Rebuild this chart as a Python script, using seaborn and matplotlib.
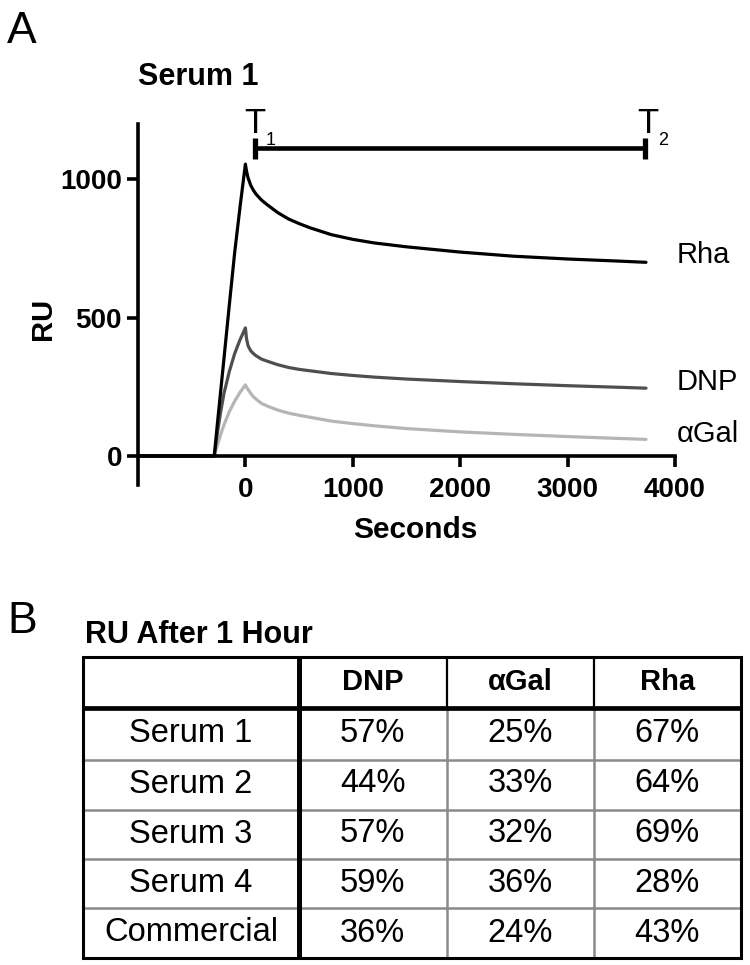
import numpy as np
import pandas as pd
import matplotlib
matplotlib.use("Agg")
import matplotlib.pyplot as plt
import seaborn as sns
from matplotlib.colors import ListedColormap

# ---------------- data ----------------
time_s = [-1000, -290, -260, -230, -200, -150, -100, -50, 0,
          10, 25, 50, 75, 100, 150, 200, 300, 400, 500, 600, 800, 1000,
          1200, 1500, 2000, 2500, 3000, 3500, 3730]
rha_ru = [0, 0, 120, 235, 350, 545, 735, 900, 1055,
          1030, 1005, 978, 960, 946, 925, 909, 880, 857, 840, 825, 800, 783,
          770, 756, 737, 722, 712, 704, 700]
dnp_ru = [0, 0, 85, 160, 225, 305, 370, 420, 463,
          425, 398, 380, 370, 362, 350, 343, 330, 320, 313, 308, 298, 291,
          285, 278, 269, 261, 254, 248, 245]
agal_ru = [0, 0, 40, 78, 112, 160, 198, 230, 257,
           249, 240, 226, 214, 205, 190, 181, 166, 155, 147, 140, 126, 117,
           109, 99, 87, 78, 70, 63, 60]
analytes = ["αGal", "DNP", "Rha"]
x_ticks = [0, 1000, 2000, 3000, 4000]
y_ticks = [0, 500, 1000]
T1_TIME, T2_TIME, BAR_RU = 88, 3718, 1112

table_cols = ["DNP", "αGal", "Rha"]
row_labels = ["Serum 1", "Serum 2", "Serum 3", "Serum 4", "Commercial"]
dnp_pct = [57, 44, 57, 59, 36]
agal_pct = [25, 33, 32, 36, 24]
rha_pct = [67, 64, 69, 28, 43]

# ---------------- style ----------------
sns.set_theme(style="white")
plt.rcParams["font.family"] = ["Liberation Sans", "DejaVu Sans"]
plt.rcParams.update({"text.color": "black", "axes.labelcolor": "black",
                     "xtick.color": "black", "ytick.color": "black",
                     "axes.unicode_minus": False})

W, H = 750, 965
fig = plt.figure(figsize=(W / 100, H / 100), dpi=100)
fig.patch.set_facecolor("white")


def fx(px):
    return px / W


def fy(py):
    return 1 - py / H


# ---------------- panel A ----------------
ax = fig.add_axes([fx(138), fy(485), (675 - 138) / W, (485 - 124) / H])
ax.set_facecolor("none")
df = pd.concat([
    pd.DataFrame({"Seconds": time_s, "RU": v, "Analyte": n})
    for n, v in [("αGal", agal_ru), ("DNP", dnp_ru), ("Rha", rha_ru)]
], ignore_index=True)
palette = {"Rha": "#000000", "DNP": "#4f4f4f", "αGal": "#b5b5b5"}
sns.lineplot(data=df, x="Seconds", y="RU", hue="Analyte", hue_order=analytes,
             palette=palette, linewidth=2.3, legend=False, estimator=None,
             sort=False, ax=ax)
for ln in ax.lines:
    ln.set_clip_on(False)

ax.set_xlim(-1000, 4000)
ax.set_ylim(-105, 1200)
ax.spines["bottom"].set_position(("data", 0))
ax.spines["top"].set_visible(False)
ax.spines["right"].set_visible(False)
for s in ("left", "bottom"):
    ax.spines[s].set_linewidth(2.6)
    ax.spines[s].set_color("black")
ax.set_xticks(x_ticks)
ax.set_yticks(y_ticks)
ax.tick_params(direction="out", length=8, width=2.6, labelsize=20,
               colors="black", bottom=True, left=True)
ax.tick_params(axis="x", pad=7)
ax.tick_params(axis="y", pad=3.5)
for lab in ax.get_xticklabels() + ax.get_yticklabels():
    lab.set_fontweight("bold")
ax.set_xlabel("")
ax.set_ylabel("")

# T1 - T2 bar
ax.plot([T1_TIME, T2_TIME], [BAR_RU, BAR_RU], color="black", lw=3.3,
        solid_capstyle="butt", clip_on=False)
for t in (T1_TIME, T2_TIME):
    ax.plot([t, t], [BAR_RU - 37, BAR_RU + 37], color="black", lw=3.8,
            solid_capstyle="butt", clip_on=False)

fig.text(fx(244), fy(133), "T", fontsize=25, va="baseline", ha="left")
fig.text(fx(266), fy(145), "1", fontsize=13, va="baseline", ha="left")
fig.text(fx(637), fy(133), "T", fontsize=25, va="baseline", ha="left")
fig.text(fx(658), fy(145), "2", fontsize=13, va="baseline", ha="left")

fig.text(fx(677), fy(263), "Rha", fontsize=21, va="baseline", ha="left")
fig.text(fx(677), fy(390), "DNP", fontsize=21, va="baseline", ha="left")
fig.text(fx(677), fy(442), "αGal", fontsize=21, va="baseline", ha="left")

fig.text(fx(415), fy(538), "Seconds", fontsize=21.5, fontweight="bold",
         ha="center", va="baseline")
fig.text(fx(43), fy(319), "RU", fontsize=21, fontweight="bold",
         ha="center", va="center", rotation=90)
fig.text(fx(138), fy(85), "Serum 1", fontsize=22, fontweight="bold",
         ha="left", va="baseline")
fig.text(fx(7), fy(43), "A", fontsize=32, ha="left", va="baseline")

# ---------------- panel B (table) ----------------
col_edges = [83, 299, 447, 594, 741]
row_edges = [657, 708, 760, 810, 859, 908, 958]

vals = pd.DataFrame({"DNP": dnp_pct, "αGal": agal_pct, "Rha": rha_pct},
                    index=row_labels)
annot = vals.map(lambda v: f"{v}%")
hax = fig.add_axes([fx(col_edges[1]), fy(row_edges[-1]),
                    (col_edges[-1] - col_edges[1]) / W,
                    (row_edges[-1] - row_edges[1]) / H])
sns.heatmap(vals, annot=annot, fmt="", cmap=ListedColormap(["white"]),
            cbar=False, linewidths=0, xticklabels=False, yticklabels=False,
            annot_kws={"fontsize": 23.5, "color": "black"}, ax=hax)
hax.set_xlabel("")
hax.set_ylabel("")

tax = fig.add_axes([fx(col_edges[0]), fy(row_edges[-1]),
                    (col_edges[-1] - col_edges[0]) / W,
                    (row_edges[-1] - row_edges[0]) / H])
tax.set_xlim(col_edges[0], col_edges[-1])
tax.set_ylim(row_edges[-1], row_edges[0])
tax.axis("off")

gray = "#8a8a8a"
for yv in row_edges[2:-1]:
    tax.plot([col_edges[0], col_edges[-1]], [yv, yv], color=gray, lw=1.8,
             clip_on=False, solid_capstyle="butt")
for xv in col_edges[2:-1]:
    tax.plot([xv, xv], [row_edges[1], row_edges[-1]], color=gray, lw=1.8,
             clip_on=False, solid_capstyle="butt")
    tax.plot([xv, xv], [row_edges[0], row_edges[1]], color="black", lw=1.6,
             clip_on=False, solid_capstyle="butt")
tax.plot([col_edges[0], col_edges[-1]], [row_edges[1], row_edges[1]],
         color="black", lw=3.4, clip_on=False, solid_capstyle="butt")
tax.plot([col_edges[1], col_edges[1]], [row_edges[0], row_edges[-1]],
         color="black", lw=3.6, clip_on=False, solid_capstyle="butt")
bx = [col_edges[0], col_edges[-1], col_edges[-1], col_edges[0], col_edges[0]]
by = [row_edges[0], row_edges[0], row_edges[-1], row_edges[-1], row_edges[0]]
tax.plot(bx, by, color="black", lw=2.2, clip_on=False,
         solid_joinstyle="miter")

for i, c in enumerate(table_cols):
    cx = (col_edges[i + 1] + col_edges[i + 2]) / 2
    cy = (row_edges[0] + row_edges[1]) / 2
    tax.text(cx, cy, c, fontsize=21, fontweight="bold", ha="center",
             va="center")
for j, lab in enumerate(row_labels):
    cx = (col_edges[0] + col_edges[1]) / 2
    cy = (row_edges[j + 1] + row_edges[j + 2]) / 2
    tax.text(cx, cy, lab, fontsize=23.5, ha="center", va="center")

fig.text(fx(85), fy(643), "RU After 1 Hour", fontsize=22, fontweight="bold",
         ha="left", va="baseline")
fig.text(fx(7), fy(633), "B", fontsize=32, ha="left", va="baseline")

fig.savefig("out.png", dpi=100)
